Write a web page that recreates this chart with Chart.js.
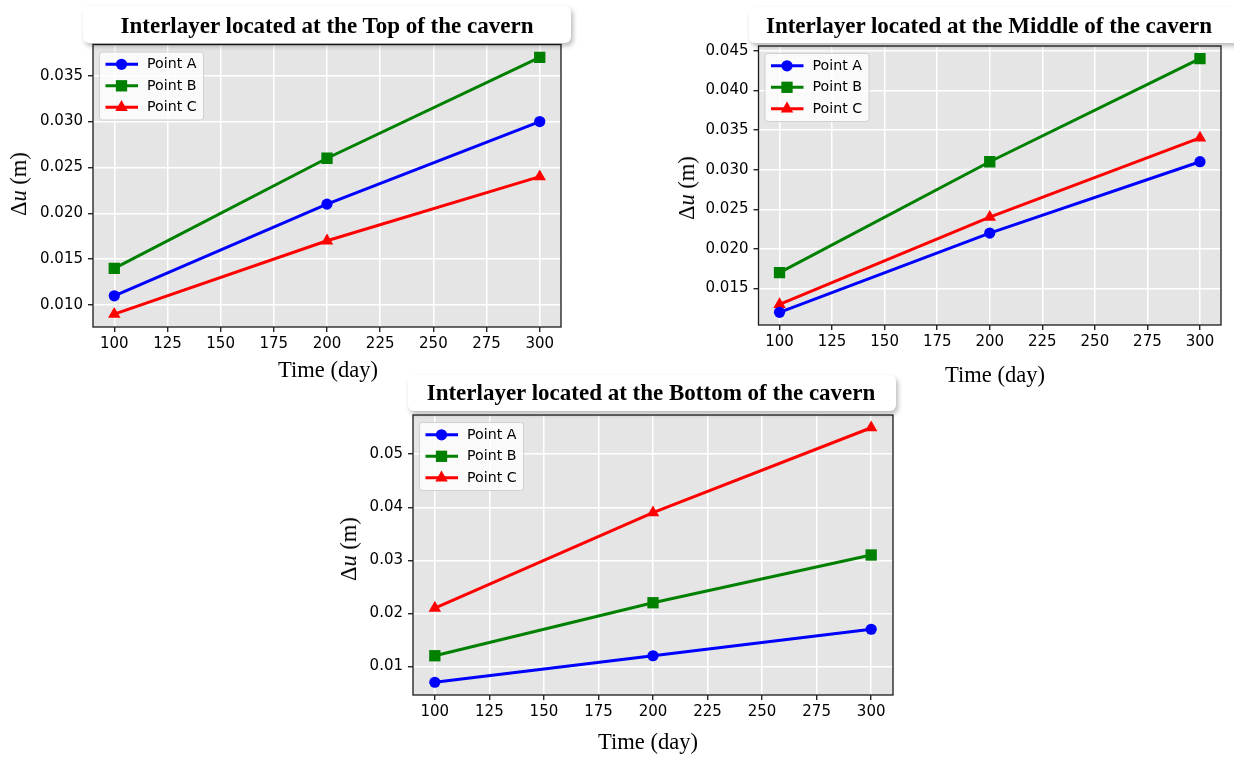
<!DOCTYPE html>
<html>
<head>
<meta charset="utf-8">
<script src="https://cdn.jsdelivr.net/npm/chart.js@4.4.1/dist/chart.umd.min.js"></script>
<style>
  html, body { margin: 0; padding: 0; background: #fff; }
  body { position: relative; width: 1234px; height: 757px; overflow: hidden; font-family: "Liberation Serif", "Times New Roman", serif; color: #000; }
  canvas { position: absolute; }
  .tbox { position: absolute; background: #fff; border-radius: 6px; box-shadow: 2px 3px 5px rgba(0,0,0,0.28); }
  .ttext { position: absolute; font-weight: bold; font-size: 23px; white-space: nowrap; transform: translate(-50%, -50%); }
  .xlab, .ylab { position: absolute; font-size: 22.5px; white-space: nowrap; }
  .xlab { transform: translate(-50%, -50%); }
  .ylab { transform: translate(-50%, -50%) rotate(-90deg); }
</style>
</head>
<body>
<canvas id="cTop"></canvas>
<canvas id="cMid"></canvas>
<canvas id="cBot"></canvas>

<div class="tbox" style="left:83px;top:6px;width:488px;height:37px"></div>
<div class="ttext" style="left:327px;top:26px">Interlayer located at the Top of the cavern</div>
<div class="tbox" style="left:749px;top:7px;width:500px;height:36px"></div>
<div class="ttext" style="left:989px;top:26px">Interlayer located at the Middle of the cavern</div>
<div class="tbox" style="left:408px;top:375px;width:488px;height:36px"></div>
<div class="ttext" style="left:651px;top:393px">Interlayer located at the Bottom of the cavern</div>

<div class="xlab" style="left:328px;top:370px">Time (day)</div>
<div class="xlab" style="left:995px;top:375px">Time (day)</div>
<div class="xlab" style="left:648px;top:742px">Time (day)</div>
<div class="ylab" style="left:19px;top:184px">Δ<i>u</i> (m)</div>
<div class="ylab" style="left:687px;top:188px">Δ<i>u</i> (m)</div>
<div class="ylab" style="left:349px;top:549px">Δ<i>u</i> (m)</div>

<script>
// ---- data ----
const days = [100, 200, 300];
const dayTicks = [100, 125, 150, 175, 200, 225, 250, 275, 300];
const seriesNames = ['Point A', 'Point B', 'Point C'];

// interlayer at the top of the cavern
const topA = [0.011, 0.021, 0.030];
const topB = [0.014, 0.026, 0.037];
const topC = [0.009, 0.017, 0.024];
const topTicks = [0.010, 0.015, 0.020, 0.025, 0.030, 0.035];

// interlayer at the middle of the cavern
const midA = [0.012, 0.022, 0.031];
const midB = [0.017, 0.031, 0.044];
const midC = [0.013, 0.024, 0.034];
const midTicks = [0.015, 0.020, 0.025, 0.030, 0.035, 0.040, 0.045];

// interlayer at the bottom of the cavern
const botA = [0.007, 0.012, 0.017];
const botB = [0.012, 0.022, 0.031];
const botC = [0.021, 0.039, 0.055];
const botTicks = [0.01, 0.02, 0.03, 0.04, 0.05];

// ---- styling ----
const seriesStyle = [
  { color: '#0000ff', pointStyle: 'circle',   radius: 5.6 },
  { color: '#008000', pointStyle: 'rect',     radius: 8 },
  { color: '#ff0000', pointStyle: 'triangle', radius: 7.2 }
];
const tickFont = { family: 'DejaVu Sans', size: 15 };
const legendFont = '14.2px "DejaVu Sans"';

// padded data range, matplotlib style (5% each side)
function padded(lo, hi) { const m = (hi - lo) * 0.05; return [lo - m, hi + m]; }

function drawMarker(ctx, style, x, y) {
  ctx.beginPath();
  const r = style.radius;
  if (style.pointStyle === 'circle') {
    ctx.arc(x, y, r, 0, Math.PI * 2);
  } else if (style.pointStyle === 'rect') {
    const s = Math.SQRT1_2 * r;
    ctx.rect(x - s, y - s, 2 * s, 2 * s);
  } else {
    let a = 0;
    ctx.moveTo(x + Math.sin(a) * r, y - Math.cos(a) * r);
    a += 2 * Math.PI / 3;
    ctx.lineTo(x + Math.sin(a) * r, y - Math.cos(a) * r);
    a += 2 * Math.PI / 3;
    ctx.lineTo(x + Math.sin(a) * r, y - Math.cos(a) * r);
    ctx.closePath();
  }
  ctx.fillStyle = style.color;
  ctx.fill();
}

// gray plot face, black frame and an inset legend
const framePlugin = {
  id: 'frame',
  beforeDraw(chart) {
    const { ctx, chartArea: a } = chart;
    ctx.save();
    ctx.fillStyle = '#e5e5e5';
    ctx.fillRect(a.left, a.top, a.right - a.left, a.bottom - a.top);
    ctx.restore();
  },
  afterDraw(chart) {
    const { ctx, chartArea: a } = chart;
    ctx.save();
    ctx.strokeStyle = '#1a1a1a';
    ctx.lineWidth = 1.3;
    ctx.strokeRect(a.left, a.top, a.right - a.left, a.bottom - a.top);

    // legend
    const bx = a.left + 6.5, by = a.top + 7.5, bw = 104, bh = 68;
    ctx.beginPath();
    ctx.roundRect(bx, by, bw, bh, 3);
    ctx.fillStyle = 'rgba(255,255,255,0.8)';
    ctx.fill();
    ctx.strokeStyle = '#d0d0d0';
    ctx.lineWidth = 1;
    ctx.stroke();
    chart.data.datasets.forEach((ds, i) => {
      const st = seriesStyle[i];
      const y = by + 12.3 + 21.5 * i;
      ctx.beginPath();
      ctx.moveTo(bx + 6, y);
      ctx.lineTo(bx + 38.5, y);
      ctx.strokeStyle = st.color;
      ctx.lineWidth = 3;
      ctx.stroke();
      drawMarker(ctx, st, bx + 22, y);
      ctx.fillStyle = '#000';
      ctx.font = legendFont;
      ctx.textBaseline = 'middle';
      ctx.textAlign = 'left';
      ctx.fillText(ds.label, bx + 47.5, y + 0.5);
    });
    ctx.restore();
  }
};

function makePanel(id, box, area, series, yTicks, decimals) {
  const cv = document.getElementById(id);
  cv.style.left = box.x + 'px';
  cv.style.top = box.y + 'px';
  cv.width = box.w; cv.height = box.h;
  cv.style.width = box.w + 'px'; cv.style.height = box.h + 'px';

  const yW = 80, xH = 40;
  const padding = {
    left: area.left - box.x - yW,
    top: area.top - box.y,
    right: box.x + box.w - area.right,
    bottom: box.y + box.h - area.bottom - xH
  };
  const all = series.flat();
  const [yMin, yMax] = padded(Math.min(...all), Math.max(...all));
  const [xMin, xMax] = padded(days[0], days[days.length - 1]);

  const datasets = series.map((vals, i) => ({
    label: seriesNames[i],
    data: days.map((d, k) => ({ x: d, y: vals[k] })),
    borderColor: seriesStyle[i].color,
    backgroundColor: seriesStyle[i].color,
    pointBackgroundColor: seriesStyle[i].color,
    pointBorderColor: seriesStyle[i].color,
    pointBorderWidth: 0,
    pointStyle: seriesStyle[i].pointStyle,
    pointRadius: seriesStyle[i].radius,
    pointHoverRadius: seriesStyle[i].radius,
    borderWidth: 3,
    tension: 0,
    fill: false
  }));

  return new Chart(cv, {
    type: 'line',
    data: { datasets },
    plugins: [framePlugin],
    options: {
      responsive: false,
      animation: false,
      events: [],
      layout: { padding },
      plugins: { legend: { display: false }, tooltip: { enabled: false }, title: { display: false } },
      scales: {
        x: {
          type: 'linear',
          min: xMin, max: xMax,
          afterBuildTicks: s => { s.ticks = dayTicks.map(v => ({ value: v })); },
          afterFit: s => { s.height = xH; },
          grid: { color: '#ffffff', lineWidth: 1.5, tickColor: '#000', tickLength: 5, tickWidth: 1.2 },
          border: { display: false },
          ticks: { color: '#000', font: tickFont, padding: 3, maxRotation: 0, autoSkip: false,
                   callback: v => String(v) }
        },
        y: {
          type: 'linear',
          min: yMin, max: yMax,
          afterBuildTicks: s => { s.ticks = yTicks.map(v => ({ value: v })); },
          afterFit: s => { s.width = yW; },
          grid: { color: '#ffffff', lineWidth: 1.5, tickColor: '#000', tickLength: 5, tickWidth: 1.2 },
          border: { display: false },
          ticks: { color: '#000', font: tickFont, padding: 5, autoSkip: false,
                   callback: v => Number(v).toFixed(decimals) }
        }
      }
    }
  });
}

makePanel('cTop', { x: 0, y: 0, w: 620, h: 390 },
  { left: 93, top: 44.5, right: 561, bottom: 327 },
  [topA, topB, topC], topTicks, 3);

makePanel('cMid', { x: 630, y: 0, w: 604, h: 390 },
  { left: 758.5, top: 46, right: 1221, bottom: 325 },
  [midA, midB, midC], midTicks, 3);

makePanel('cBot', { x: 320, y: 380, w: 600, h: 377 },
  { left: 413, top: 415, right: 893, bottom: 695 },
  [botA, botB, botC], botTicks, 2);
</script>
</body>
</html>
